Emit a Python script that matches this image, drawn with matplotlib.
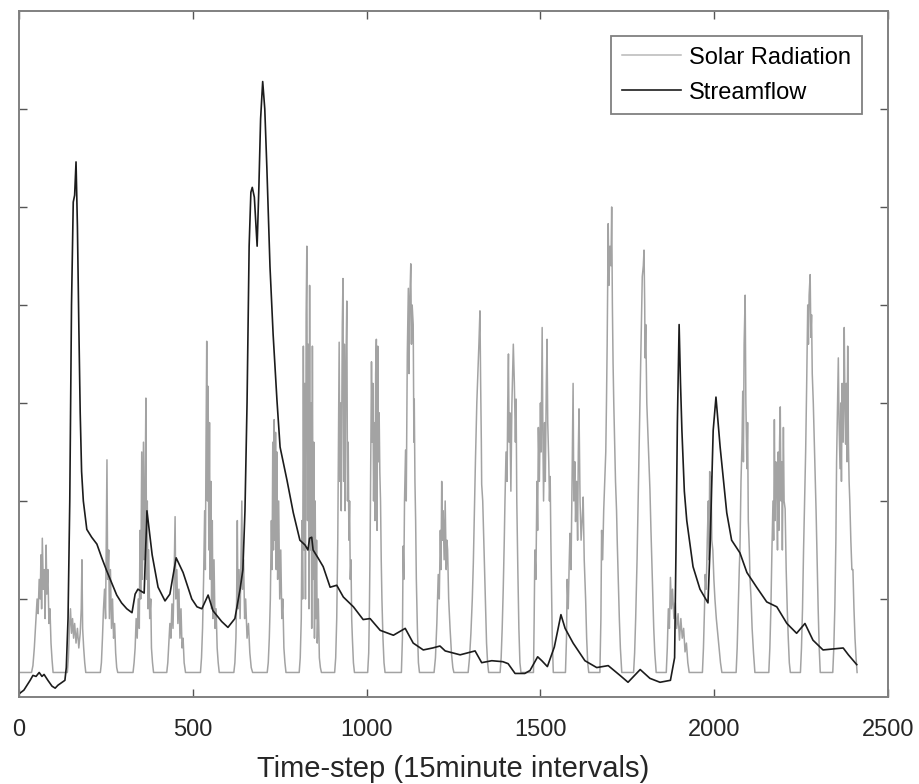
import numpy as np
import matplotlib.pyplot as plt

# solar radiation trace (time-step, value), one line per day
solar_t = [0,
    36, 40, 44, 48, 52, 55, 58, 61, 63, 65, 67, 70, 73, 75, 78, 80, 83, 86, 89, 92, 95, 98,
    139, 142, 145, 148, 151, 154, 157, 160, 164, 168, 172, 176, 179, 181, 183, 186, 189, 192,
    234, 237, 240, 243, 246, 249, 251, 253, 255, 258, 260, 263, 266, 269, 272, 275, 278, 281, 284,
    328, 331, 334, 337, 340, 343, 346, 348, 350, 353, 355, 358, 360, 363, 365, 367, 369, 371, 373, 376, 379, 381, 384, 387,
    425, 428, 431, 434, 437, 440, 443, 446, 449, 451, 454, 457, 460, 463, 466, 469, 472, 475, 479,
    522, 525, 528, 531, 534, 536, 538, 540, 542, 544, 546, 548, 550, 552, 554, 556, 558, 561, 564, 567, 570, 573, 576,
    618, 621, 624, 626, 628, 630, 633, 636, 639, 641, 643, 646, 649, 652, 656, 660, 664, 668, 672,
    714, 717, 720, 723, 726, 728, 730, 732, 734, 736, 738, 740, 742, 744, 747, 750, 753, 756, 759, 762, 765, 768,
    806, 809, 812, 814, 816, 818, 820, 822, 824, 826, 828, 830, 832, 834, 836, 838, 840, 842, 844, 846,
    848, 850, 852, 854, 856, 858, 861, 864, 867, 870,
    908, 911, 914, 917, 919, 921, 923, 925, 927, 930, 932, 934, 936, 938, 940, 943, 945, 947, 949, 951,
    953, 955, 957, 959, 962, 965,
    1003, 1006, 1008, 1010, 1012, 1014, 1016, 1018, 1020, 1022, 1024, 1026, 1028, 1030, 1032, 1034, 1036, 1038,
    1040, 1042, 1044, 1047, 1050, 1053,
    1100, 1103, 1105, 1107, 1109, 1112, 1114, 1117, 1120, 1122, 1124, 1127, 1129, 1131, 1134, 1136, 1137, 1139,
    1141, 1143, 1146, 1149, 1152,
    1194, 1198, 1202, 1206, 1209, 1212, 1214, 1216, 1218, 1220, 1223, 1226, 1229, 1231, 1233, 1236, 1240, 1244, 1248, 1251,
    1292, 1296, 1300, 1304, 1307, 1310, 1313, 1317, 1320, 1323, 1326, 1328, 1330, 1331, 1334, 1337, 1339, 1342, 1345, 1348, 1351,
    1384, 1387, 1390, 1393, 1396, 1398, 1401, 1404, 1406, 1408, 1410, 1412, 1415, 1418, 1420, 1422, 1425, 1428,
    1430, 1432, 1435, 1438, 1441, 1444,
    1480, 1482, 1484, 1487, 1490, 1492, 1494, 1497, 1500, 1502, 1505, 1507, 1509, 1512, 1514, 1517, 1519, 1521,
    1524, 1526, 1528, 1530, 1532, 1534, 1537,
    1572, 1575, 1577, 1580, 1583, 1585, 1588, 1591, 1594, 1596, 1599, 1601, 1604, 1607, 1609, 1611, 1614, 1617,
    1620, 1623, 1626, 1630, 1633, 1636, 1639,
    1671, 1674, 1676, 1679, 1682, 1685, 1688, 1690, 1692, 1695, 1697, 1700, 1703, 1705, 1707, 1709, 1711, 1713,
    1716, 1719, 1721, 1724, 1727, 1730, 1734,
    1768, 1771, 1774, 1778, 1782, 1785, 1788, 1791, 1793, 1796, 1798, 1800, 1801, 1803, 1806, 1809, 1812, 1815,
    1818, 1822, 1826, 1829, 1833,
    1862, 1865, 1868, 1871, 1874, 1877, 1880, 1884, 1888, 1892, 1896, 1900, 1904, 1908, 1912, 1916, 1920, 1924, 1928,
    1966, 1969, 1972, 1974, 1977, 1980, 1983, 1985, 1987, 1989, 1991, 1993, 1996, 1999, 2002, 2006, 2010, 2014, 2018, 2022,
    2063, 2066, 2069, 2072, 2074, 2077, 2080, 2082, 2084, 2086, 2089, 2091, 2094, 2096, 2098, 2101, 2103, 2106,
    2109, 2113, 2117,
    2157, 2160, 2163, 2166, 2169, 2171, 2173, 2175, 2177, 2180, 2182, 2184, 2186, 2188, 2190, 2192, 2194, 2196,
    2199, 2201, 2204, 2207, 2210, 2213, 2216, 2219,
    2248, 2251, 2254, 2257, 2260, 2263, 2266, 2269, 2271, 2273, 2276, 2278, 2280, 2282, 2285, 2288, 2290, 2293,
    2296, 2299, 2302, 2305,
    2341, 2344, 2347, 2350, 2352, 2355, 2357, 2359, 2362, 2364, 2366, 2368, 2371, 2374, 2376, 2378, 2380, 2382,
    2384, 2386, 2388, 2390, 2393, 2396, 2399, 2402, 2405, 2408, 2411]

solar_v = [0.25,
    .25, .32, .5, .75, 1.0, .85, 1.2, 1.0, 1.45, .9, 1.62, 1.1, 1.3, .8, 1.55, 1.05, 1.3, .75, .9, .55, .38, .25,
    .25, .4, .7, .9, .65, .8, .6, .75, .55, .7, .5, .65, .9, 1.4, .7, .5, .35, .25,
    .25, .35, .6, .9, 1.1, .8, 1.6, 2.42, 1.2, 1.5, .8, 1.3, .7, 1.0, .6, .75, .45, .3, .25,
    .25, .35, .5, .8, .6, 1.0, .7, 1.7, 1.0, 2.5, 1.2, 2.6, 1.4, 2.2, 3.05, 1.2, 2.0, .9, 1.5, .8, 1.0, .5, .35, .25,
    .25, .35, .55, .75, .6, .95, .7, 1.2, 1.84, 1.0, 1.3, .75, 1.1, .6, .9, .5, .6, .35, .25,
    .25, .4, .7, 1.2, 1.9, 1.3, 2.6, 3.63, 2.0, 3.17, 1.5, 2.8, 1.2, 2.2, .9, 1.8, .8, 1.4, .7, .9, .5, .35, .25,
    .25, .35, .6, 1.0, 1.8, .9, 1.3, .8, 1.5, 2.0, 1.1, 1.4, .8, 1.0, .6, .75, .45, .3, .25,
    .25, .35, .6, 1.0, 1.8, 1.3, 2.6, 1.5, 2.83, 1.6, 2.7, 1.3, 2.5, 1.2, 2.0, 1.0, 1.5, .8, 1.0, .5, .35, .25,
    .25, .4, .8, 1.8, 1.0, 3.58, 1.5, 3.2, 1.0, 3.9, 4.6, 1.8, 3.6, .9, 4.2, 1.5, 3.0, .7, 3.58, 1.2,
    2.6, .6, 2.0, .8, 1.6, .55, 1.0, .4, .3, .25,
    .25, .4, .8, 1.6, 2.6, 3.62, 2.2, 3.0, 1.9, 3.8, 4.27, 2.2, 3.6, 1.9, 3.2, 4.04, 2.0, 2.6, 1.6, 2.0,
    1.2, 1.4, .8, .6, .35, .25,
    .25, .45, .9, 1.54, 2.5, 3.42, 2.6, 3.2, 2.0, 2.8, 1.8, 3.3, 3.65, 1.7, 3.58, 2.4, 2.9, 2.29,
    2.0, 1.4, 1.0, .6, .35, .25,
    .25, .6, 1.54, 1.2, 2.0, 2.52, 2.0, 3.5, 4.17, 3.3, 4.0, 4.42, 3.6, 4.0, 3.8, 2.6, 3.04, 2.2,
    1.8, 1.2, .7, .35, .25,
    .25, .4, .75, 1.25, 1.0, 1.7, 1.3, 2.2, 1.6, 1.9, 1.4, 2.0, 1.3, 1.6, 1.5, 1.0, .7, .45, .3, .25,
    .25, .4, .65, 1.0, 1.37, 1.9, 2.4, 3.0, 3.3, 3.6, 3.94, 3.2, 2.6, 2.17, 2.0, 1.6, 1.3, .9, .55, .35, .25,
    .25, .4, .7, 1.1, 1.6, 2.0, 2.5, 2.2, 3.0, 3.5, 2.6, 2.9, 2.1, 3.0, 3.3, 3.6, 3.2, 2.6,
    3.04, 2.0, 1.3, .7, .35, .25,
    .25, .8, 1.5, 1.2, 2.2, 1.7, 2.75, 2.2, 3.0, 2.5, 3.77, 2.7, 2.0, 2.8, 2.2, 3.2, 3.65, 2.8,
    2.4, 2.0, 2.25, 1.6, 1.1, .6, .25,
    .25, .6, 1.2, .9, 1.4, 1.67, 1.3, 2.2, 3.2, 2.0, 2.4, 1.79, 2.2, 1.6, 2.5, 2.94, 2.0, 1.6,
    1.8, 2.04, 1.4, 1.0, .6, .35, .25,
    .25, .8, 1.7, 1.4, 1.9, 2.2, 2.5, 3.0, 3.6, 4.83, 4.2, 4.6, 4.4, 5.0, 4.0, 3.4, 3.0, 2.67,
    2.2, 1.9, 1.58, 1.2, .8, .5, .25,
    .25, .45, .8, 1.4, 2.17, 2.7, 3.3, 3.9, 4.29, 4.4, 4.56, 4.0, 3.46, 3.8, 3.0, 2.7, 2.4, 2.12,
    1.7, 1.2, .7, .45, .25,
    .25, .5, .9, .7, 1.22, .9, 1.1, .8, .96, .7, .85, .58, .8, .6, .7, .46, .55, .35, .25,
    .25, .5, .9, 1.25, 1.1, 1.6, 2.0, 1.4, 2.3, 1.7, 2.25, 1.6, 1.5, 1.2, 1.0, .8, .65, .5, .35, .25,
    .25, .5, .9, 1.3, 1.5, 2.2, 2.6, 3.12, 2.4, 3.6, 4.1, 3.0, 2.33, 2.8, 1.8, 1.5, 1.2, 1.0,
    .7, .45, .25,
    .25, .5, .9, 1.5, 2.0, 1.6, 2.83, 1.8, 2.4, 2.1, 1.5, 2.5, 1.7, 2.6, 2.96, 2.0, 2.4, 1.5,
    2.75, 2.0, 1.92, 1.3, .9, .6, .35, .25,
    .25, .5, .9, 1.5, 2.0, 2.5, 3.2, 4.0, 3.6, 4.1, 4.31, 3.67, 3.9, 3.3, 3.0, 2.6, 2.33, 1.9,
    1.4, .9, .5, .25,
    .25, .5, .92, 1.6, 2.4, 3.0, 3.46, 2.8, 2.33, 3.0, 2.2, 3.2, 2.6, 3.77, 3.0, 2.58, 3.2, 2.4,
    3.58, 2.6, 2.2, 2.0, 1.6, 1.3, 1.3, .9, .6, .4, .25]

# streamflow trace
flow_t = [3, 14, 32, 40, 49, 58, 66, 72, 83, 95, 104, 112, 124, 132, 136, 141, 146, 151, 156, 160,
          164, 168, 172, 176, 180, 185, 195, 209, 224, 238, 252, 267, 281, 295, 310, 325, 334, 342, 351, 360,
          368, 383, 400, 420, 434, 452, 472, 497, 512, 526, 544, 558, 583, 601, 621, 636, 644, 650, 656, 662,
          667, 671, 677, 685, 690, 695, 701, 707, 713, 722, 731, 742, 751, 761, 771, 789, 808, 823, 831, 836,
          842, 846, 860, 875, 895, 914, 933, 962, 990, 1010, 1039, 1077, 1111, 1134, 1163, 1190, 1211, 1226, 1269, 1312,
          1331, 1360, 1392, 1407, 1427, 1455, 1470, 1492, 1504, 1520, 1540, 1559, 1571, 1594, 1628, 1662, 1695, 1729, 1752, 1787,
          1815, 1844, 1874, 1886, 1890, 1894, 1899, 1903, 1907, 1914, 1921, 1939, 1959, 1982, 1988, 1997, 2005, 2017, 2036, 2050,
          2074, 2094, 2122, 2151, 2180, 2209, 2237, 2261, 2284, 2313, 2342, 2371, 2386, 2410]
flow_v = [0.04, 0.07, 0.17, 0.22, 0.21, 0.25, 0.21, 0.23, 0.17, 0.11, 0.09, 0.12, 0.15, 0.17, 0.3, 0.8, 2.0, 4.0, 5.05, 5.12,
          5.46, 4.8, 3.8, 2.9, 2.3, 2.0, 1.71, 1.63, 1.56, 1.42, 1.29, 1.16, 1.04, 0.96, 0.9, 0.86, 1.05, 1.1, 1.08, 1.06,
          1.9, 1.45, 1.12, 0.98, 1.05, 1.42, 1.27, 1.0, 0.92, 0.9, 1.04, 0.88, 0.77, 0.71, 0.8, 1.1, 1.3, 1.9, 3.0, 4.6,
          5.15, 5.2, 5.1, 4.6, 5.2, 5.9, 6.28, 6.0, 5.4, 4.39, 3.7, 3.03, 2.55, 2.38, 2.21, 1.88, 1.6, 1.55, 1.5, 1.62,
          1.63, 1.5, 1.42, 1.33, 1.12, 1.14, 1.02, 0.92, 0.79, 0.8, 0.68, 0.63, 0.7, 0.55, 0.48, 0.5, 0.52, 0.47, 0.43, 0.47,
          0.35, 0.37, 0.36, 0.34, 0.24, 0.24, 0.27, 0.41, 0.37, 0.31, 0.51, 0.84, 0.7, 0.55, 0.37, 0.3, 0.32, 0.22, 0.15, 0.28,
          0.19, 0.15, 0.17, 0.4, 1.5, 2.8, 3.8, 3.2, 2.72, 2.1, 1.8, 1.33, 1.1, 0.96, 1.53, 2.72, 3.06, 2.55, 1.88, 1.6,
          1.47, 1.27, 1.12, 0.97, 0.92, 0.75, 0.65, 0.75, 0.58, 0.48, 0.49, 0.5, 0.43, 0.33]

x_ticks = [0, 500, 1000, 1500, 2000, 2500]
y_ticks = [1, 2, 3, 4, 5, 6]

plt.rcParams['font.family'] = ['Liberation Sans', 'DejaVu Sans']

fig = plt.figure(figsize=(9.19, 7.84), dpi=100)
ax = fig.add_axes([0.0207, 0.111, 0.9456, 0.875])

ax.plot(np.array(solar_t), np.array(solar_v), color='#a3a3a3', lw=1.1, label='Solar Radiation')
ax.plot(np.array(flow_t), np.array(flow_v), color='#1c1c1c', lw=1.2, label='Streamflow')

ax.set_xlim(0, 2500)
ax.set_ylim(0, 7)
ax.set_xticks(x_ticks)
ax.set_yticks(y_ticks)
ax.set_yticklabels([])
ax.tick_params(direction='in', top=True, right=True, length=6, width=1,
               color='#555555', labelcolor='#262626', labelsize=17, pad=16)
for s in ax.spines.values():
    s.set_color('#808080')
    s.set_linewidth(1.4)

ax.set_xlabel('Time-step (15minute intervals)', fontsize=21, color='#262626', labelpad=10)

leg = ax.legend(loc='upper right', bbox_to_anchor=(0.970, 0.9636), borderaxespad=0,
                fontsize=17, fancybox=False, edgecolor='#808080', framealpha=1,
                handlelength=2.5, handletextpad=0.35, labelspacing=0.55, borderpad=0.45)
leg.get_frame().set_linewidth(1.3)
leg.get_lines()[0].set_color('#b8b8b8')

fig.savefig('out.png', dpi=100)
